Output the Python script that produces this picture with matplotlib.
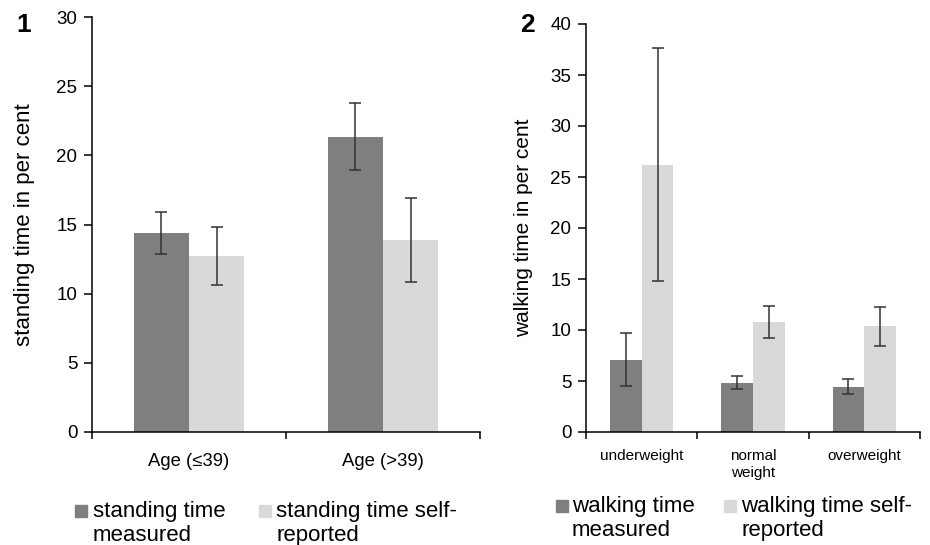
import numpy as np
import matplotlib
matplotlib.use('Agg')
from matplotlib import pyplot as plt
from matplotlib.patches import Rectangle

plt.rcParams['font.family'] = ['Liberation Sans', 'DejaVu Sans']

# panel 1: standing time
age_groups = ['Age (≤39)', 'Age (>39)']
stand_meas = [14.4, 21.35]
stand_meas_err = [1.5, 2.4]
stand_self = [12.7, 13.9]
stand_self_err = [2.1, 3.05]

# panel 2: walking time
bmi_groups = ['underweight', 'normal\nweight', 'overweight']
walk_meas = [7.1, 4.85, 4.45]
walk_meas_err = [2.6, 0.6, 0.72]
walk_self = [26.2, 10.8, 10.35]
walk_self_err = [11.4, 1.6, 1.9]

dark = '#7f7f7f'
light = '#d9d9d9'
W, H = 930, 545

fig = plt.figure(figsize=(9.3, 5.45), dpi=100)
ax1 = fig.add_axes([92/W, 1-432/H, 388/W, 415/H])
ax2 = fig.add_axes([586/W, 1-432/H, 334/W, 408/H])


def panel(ax, cats, m, m_err, s, s_err, ymax, xfs, xpad):
    n = len(cats)
    x = np.arange(n)
    bw = 0.285
    ax.bar(x - bw/2, m, bw, color=dark)
    ax.bar(x + bw/2, s, bw, color=light)
    ax.errorbar(x - bw/2, m, yerr=m_err, fmt='none', ecolor='#333333',
                elinewidth=1.1, capsize=4, capthick=1.1)
    ax.errorbar(x + bw/2, s, yerr=s_err, fmt='none', ecolor='#333333',
                elinewidth=1.1, capsize=4, capthick=1.1)
    ax.set_xlim(-0.5, n - 0.5)
    ax.set_ylim(0, ymax)
    ax.set_yticks(np.arange(0, ymax + 1, 5))
    ax.set_xticks(x)
    ax.set_xticklabels(cats, fontsize=xfs, va='top', linespacing=1.25)
    ax.set_xticks(np.arange(-0.5, n), minor=True)
    ax.tick_params(axis='x', which='major', length=0, pad=xpad)
    ax.tick_params(axis='x', which='minor', length=5, width=1.1)
    ax.tick_params(axis='y', length=5.5, width=1.1, labelsize=13.5, pad=5)
    for side in ['top', 'right']:
        ax.spines[side].set_visible(False)
    for side in ['left', 'bottom']:
        ax.spines[side].set_linewidth(1.1)


panel(ax1, age_groups, stand_meas, stand_meas_err, stand_self, stand_self_err, 30, 13.3, 15)
panel(ax2, bmi_groups, walk_meas, walk_meas_err, walk_self, walk_self_err, 40, 11, 12.5)

ax1.set_ylabel('standing time in per cent', fontsize=16)
ax1.yaxis.set_label_coords(-0.148, 0.5)
ax2.set_ylabel('walking time in per cent', fontsize=15)
ax2.yaxis.set_label_coords(-0.16, 0.5)

fig.text(24/W, 1-25/H, '1', fontsize=19, fontweight='bold', ha='center', va='center')
fig.text(527/W, 1-25/H, '2', fontsize=19, fontweight='bold', ha='center', va='center')

# legends under each panel
legend_items = [
    (75, 505, 93, dark, 'standing time\nmeasured'),
    (259, 505, 276, light, 'standing time self-\nreported'),
    (556, 500, 572, dark, 'walking time\nmeasured'),
    (724, 500, 741, light, 'walking time self-\nreported'),
]
for sx, sy, tx, col, lab in legend_items:
    fig.patches.append(Rectangle((sx/W, 1-(sy+12)/H), 12/W, 12/H,
                                 transform=fig.transFigure, color=col))
    fig.text(tx/W, 1-(sy-4)/H, lab, fontsize=16, ha='left', va='top',
             linespacing=1.18)

fig.savefig('out.png', dpi=100)
